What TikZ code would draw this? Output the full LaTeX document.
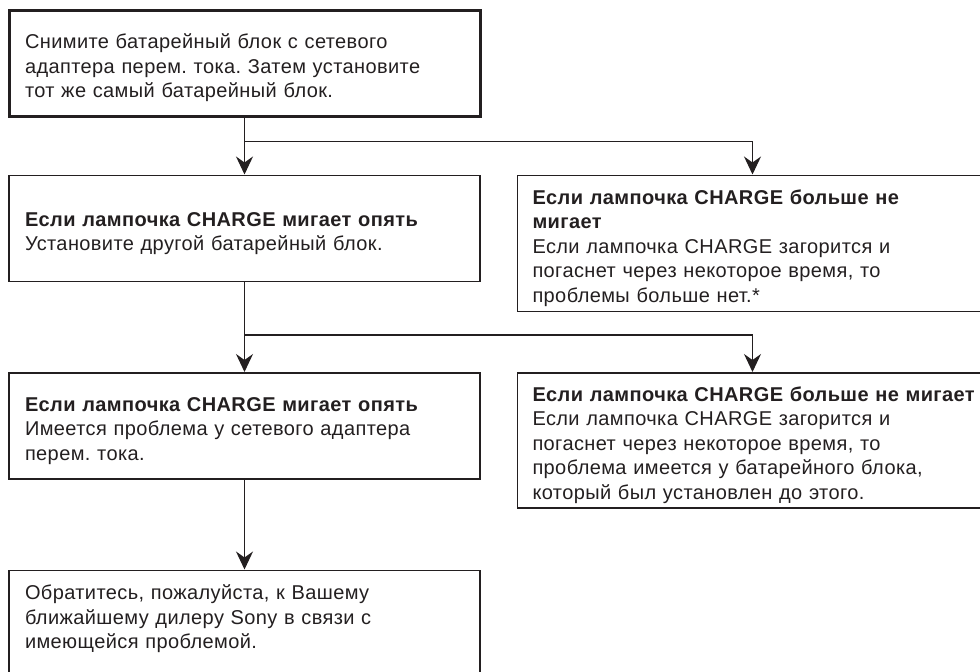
\documentclass[tikz,border=0pt]{standalone}
\usepackage{fontspec}
\setmainfont[LetterSpace=2]{Liberation Sans}
\definecolor{Ink}{HTML}{231F20}
\usetikzlibrary{arrows.meta,positioning}

\begin{document}
\frenchspacing
\begin{tikzpicture}[
  font=\fontsize{20}{24.5}\selectfont,
  start/.style={draw=Ink,text=Ink,line width=3pt,inner xsep=16pt,text width=439pt,
    minimum height=106pt,text height=24.5pt,align=left},
  check/.style={draw=Ink,text=Ink,line width=1.5pt,inner xsep=16pt,text width=439pt,
    minimum height=106pt,text height=24.5pt,align=left},
  result/.style={draw=Ink,text=Ink,line width=1.5pt,inner xsep=15pt,text width=440pt,
    text height=24.5pt,align=left},
  arrow/.style={-{Stealth[length=18pt,width=17pt,inset=6pt]},line width=1.2pt,draw=Ink}
]
\useasboundingbox (0,0) rectangle (980pt,-672pt);
\clip (0,0) rectangle (980pt,-672pt);

\node[start] (remove) at (244.5pt,-63pt) {Снимите батарейный блок с сетевого\\адаптера перем. тока. Затем установите\\тот же самый батарейный блок.};
\node[check,below=57pt of remove] (blink1) {\textbf{Если лампочка CHARGE мигает опять}\\Установите другой батарейный блок.};
\node[result,below right=0pt and 36pt of blink1.north east,minimum height=136pt] (stop1) {\textbf{Если лампочка CHARGE больше не}\\\textbf{мигает}\\Если лампочка CHARGE загорится и\\погаснет через некоторое время, то\\проблемы больше нет.*};
\node[check,below=90pt of blink1] (blink2) {\textbf{Если лампочка CHARGE мигает опять}\\Имеется проблема у сетевого адаптера\\перем. тока.};
\node[result,below right=0pt and 36pt of blink2.north east,minimum height=135pt] (stop2) {\mbox{\textbf{Если лампочка CHARGE больше не мигает}}\\Если лампочка CHARGE загорится и\\погаснет через некоторое время, то\\проблема имеется у батарейного блока,\\который был установлен до этого.};
\node[check,below=90pt of blink2,text depth=71.5pt] (dealer) {Обратитесь, пожалуйста, к Вашему\\ближайшему дилеру Sony в связи с\\имеющейся проблемой.};

\coordinate[below=24pt of remove] (fork1);
\coordinate[below=53pt of blink1] (fork2);

\draw[arrow] (remove) -- (blink1);
\draw[arrow] (fork1) -| (stop1);
\draw[arrow] (blink1) -- (blink2);
\draw[arrow] (fork2) -| (stop2);
\draw[arrow] (blink2) -- (dealer);
\end{tikzpicture}
\end{document}
